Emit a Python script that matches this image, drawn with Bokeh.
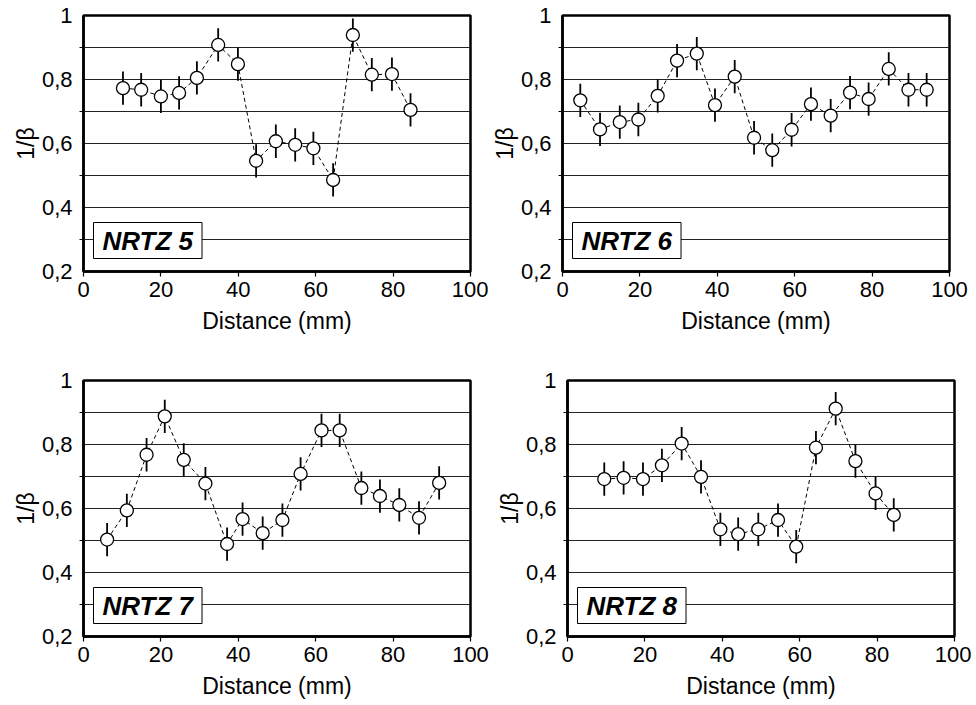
from bokeh.plotting import figure
from bokeh.layouts import column, row
from bokeh.models import ColumnDataSource, FixedTicker, CustomJSTickFormatter, Label, Range1d
from bokeh.embed import file_html
from bokeh.resources import INLINE

FONT = "Liberation Sans"

# ---- data ----
x5 = [10.2, 14.9, 20.0, 24.7, 29.3, 34.8, 39.9, 44.6, 49.7, 54.7, 59.4, 64.5, 69.6, 74.5, 79.7, 84.5]
y5 = [0.773, 0.768, 0.747, 0.758, 0.805, 0.908, 0.848, 0.546, 0.607, 0.596, 0.585, 0.486, 0.939, 0.815, 0.817, 0.705]

x6 = [4.6, 9.7, 14.8, 19.6, 24.6, 29.6, 34.7, 39.4, 44.5, 49.5, 54.2, 59.2, 64.2, 69.3, 74.3, 79.1, 84.3, 89.4, 94.1]
y6 = [0.735, 0.644, 0.667, 0.675, 0.749, 0.859, 0.881, 0.720, 0.809, 0.618, 0.579, 0.643, 0.723, 0.687, 0.759, 0.739, 0.833, 0.768, 0.768]

x7 = [6.1, 11.2, 16.3, 21.0, 25.9, 31.5, 37.1, 41.1, 46.3, 51.4, 56.1, 61.5, 66.2, 71.8, 76.6, 81.6, 86.7, 91.9]
y7 = [0.503, 0.594, 0.768, 0.888, 0.752, 0.678, 0.489, 0.567, 0.523, 0.564, 0.708, 0.844, 0.844, 0.664, 0.639, 0.611, 0.571, 0.680]

x8 = [9.5, 14.5, 19.5, 24.4, 29.5, 34.5, 39.5, 44.1, 49.3, 54.4, 59.1, 64.2, 69.3, 74.4, 79.6, 84.3]
y8 = [0.692, 0.696, 0.692, 0.735, 0.803, 0.699, 0.535, 0.520, 0.535, 0.564, 0.481, 0.790, 0.912, 0.748, 0.647, 0.580]

err = 0.052  # half-length of the error bars

names = ["NRTZ 5", "NRTZ 6", "NRTZ 7", "NRTZ 8"]
y_major = [0.2, 0.4, 0.6, 0.8, 1.0]
y_minor = [0.3, 0.5, 0.7, 0.9]
x_major = [0, 20, 40, 60, 80, 100]


def make(xs, ys, name, left, right, top, bottom):
    p = figure(frame_width=387, frame_height=256,
               x_range=Range1d(0, 100), y_range=Range1d(0.2, 1.0),
               output_backend="svg", toolbar_location=None,
               min_border_left=left, min_border_right=right,
               min_border_top=top, min_border_bottom=bottom,
               background_fill_color="white", border_fill_color="white")
    p.outline_line_color = "black"
    p.outline_line_width = 2.5

    p.xgrid.grid_line_color = None
    p.ygrid.grid_line_color = "#222222"
    p.ygrid.grid_line_width = 1
    p.ygrid.minor_grid_line_color = "#222222"
    p.ygrid.minor_grid_line_width = 1

    p.yaxis.ticker = FixedTicker(ticks=y_major, minor_ticks=y_minor)
    p.xaxis.ticker = FixedTicker(ticks=x_major)
    p.yaxis.formatter = CustomJSTickFormatter(
        code="const v = Math.round(tick*10)/10; return v.toString().replace('.', ',');")

    for ax in (p.xaxis[0], p.yaxis[0]):
        ax.axis_line_color = "black"
        ax.axis_line_width = 2.5
        ax.major_tick_in = 0
        ax.major_tick_out = 5
        ax.minor_tick_in = 0
        ax.minor_tick_out = 4
        ax.major_tick_line_width = 1.2
        ax.minor_tick_line_width = 1.2
        ax.major_label_text_font = FONT
        ax.major_label_text_font_size = "22px"
        ax.major_label_text_color = "black"
        ax.axis_label_text_font = FONT
        ax.axis_label_text_font_size = "23px"
        ax.axis_label_text_font_style = "normal"
        ax.axis_label_text_color = "black"
    p.xaxis.minor_tick_out = 0
    p.yaxis.major_tick_out = 0
    p.xaxis.axis_label = "Distance (mm)"
    p.yaxis.axis_label = "1/β"
    p.xaxis.major_label_standoff = 5
    p.xaxis.axis_label_standoff = 8
    p.yaxis.major_label_standoff = 7
    p.yaxis.axis_label_standoff = 0

    src = ColumnDataSource(dict(x=xs, y=ys,
                                lo=[v - err for v in ys],
                                hi=[v + err for v in ys]))
    p.line("x", "y", source=src, line_color="black", line_width=1, line_dash="4 3")
    p.segment(x0="x", y0="lo", x1="x", y1="hi", source=src,
              line_color="black", line_width=1.8)
    p.scatter("x", "y", source=src, size=13, fill_color="white",
              line_color="black", line_width=1.3)

    lab = Label(x=10, y=13, x_units="screen", y_units="screen", text=name,
                text_font=FONT, text_font_style="bold italic", text_font_size="26px",
                text_color="black", text_align="left", text_baseline="bottom",
                background_fill_color="white", border_line_color="black",
                border_line_width=1, padding=(9, 3))
    p.add_layout(lab)
    return p


p1 = make(x5, y5, names[0], 83, 18, 15, 94)
p2 = make(x6, y6, names[1], 73, 20, 15, 94)
p3 = make(x7, y7, names[2], 83, 21, 15, 62)
p4 = make(x8, y8, names[3], 76, 17, 15, 62)

layout = column(row(p1, p2), row(p3, p4))

open("out.html", "w").write(file_html(layout, INLINE))
